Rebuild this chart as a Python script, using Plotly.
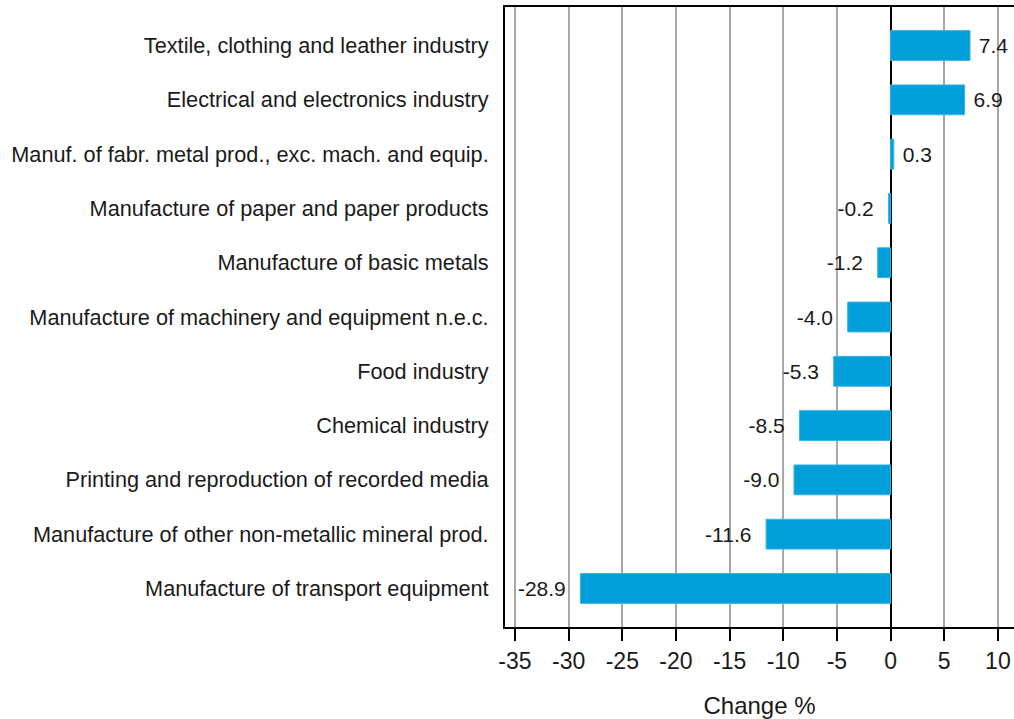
import plotly.graph_objects as go

categories = [
    "Textile, clothing and leather industry",
    "Electrical and electronics industry",
    "Manuf. of fabr. metal prod., exc. mach. and equip.",
    "Manufacture of paper and paper products",
    "Manufacture of basic metals",
    "Manufacture of machinery and equipment n.e.c.",
    "Food industry",
    "Chemical industry",
    "Printing and reproduction of recorded media",
    "Manufacture of other non-metallic mineral prod.",
    "Manufacture of transport equipment",
]
values = [7.4, 6.9, 0.3, -0.2, -1.2, -4.0, -5.3, -8.5, -9.0, -11.6, -28.9]
x_ticks = [-35, -30, -25, -20, -15, -10, -5, 0, 5, 10]

FONT = "Arial, Liberation Sans, sans-serif"

labels = [
    (f"{v:.1f}\u00a0\u00a0" if v < 0 else f"\u00a0{v:.1f}") for v in values
]

fig = go.Figure(
    go.Bar(
        y=categories,
        x=values,
        orientation="h",
        marker=dict(color="#009fda", line=dict(color="#3db3e3", width=1)),
        text=labels,
        textposition="outside",
        constraintext="none",
        cliponaxis=False,
        textfont=dict(family=FONT, size=21, color="#1a1a1a"),
        hoverinfo="skip",
    )
)

fig.update_layout(
    width=1014,
    height=719,
    autosize=False,
    margin=dict(l=505, r=0, t=7, b=92, pad=0),
    plot_bgcolor="white",
    paper_bgcolor="white",
    bargap=0.45,
    showlegend=False,
    font=dict(family=FONT, color="#1a1a1a"),
)

fig.update_xaxes(
    automargin=False,
    range=[-35.93, 11.5],
    tickvals=x_ticks,
    ticktext=[str(t) for t in x_ticks],
    showgrid=True,
    gridcolor="#a8a8a8",
    gridwidth=1.5,
    zeroline=True,
    zerolinecolor="black",
    zerolinewidth=1.5,
    showline=True,
    linecolor="black",
    linewidth=2,
    mirror=True,
    ticks="outside",
    ticklen=12,
    tickwidth=2,
    tickcolor="black",
    tickfont=dict(family=FONT, size=23, color="#1a1a1a"),
    title=dict(text="Change %", font=dict(family=FONT, size=24, color="#1a1a1a"), standoff=26),
)

fig.update_yaxes(
    automargin=False,
    categoryorder="array",
    categoryarray=categories,
    range=[10.71, -0.71],
    showgrid=False,
    showline=True,
    linecolor="black",
    linewidth=2,
    ticks="",
    ticklabelstandoff=10,
    tickfont=dict(family=FONT, size=21.7, color="#1a1a1a"),
)

fig.write_html(
    "out.html",
    config={"displayModeBar": False},
    post_script="document.body.style.margin='0';document.body.style.overflow='hidden';",
)
